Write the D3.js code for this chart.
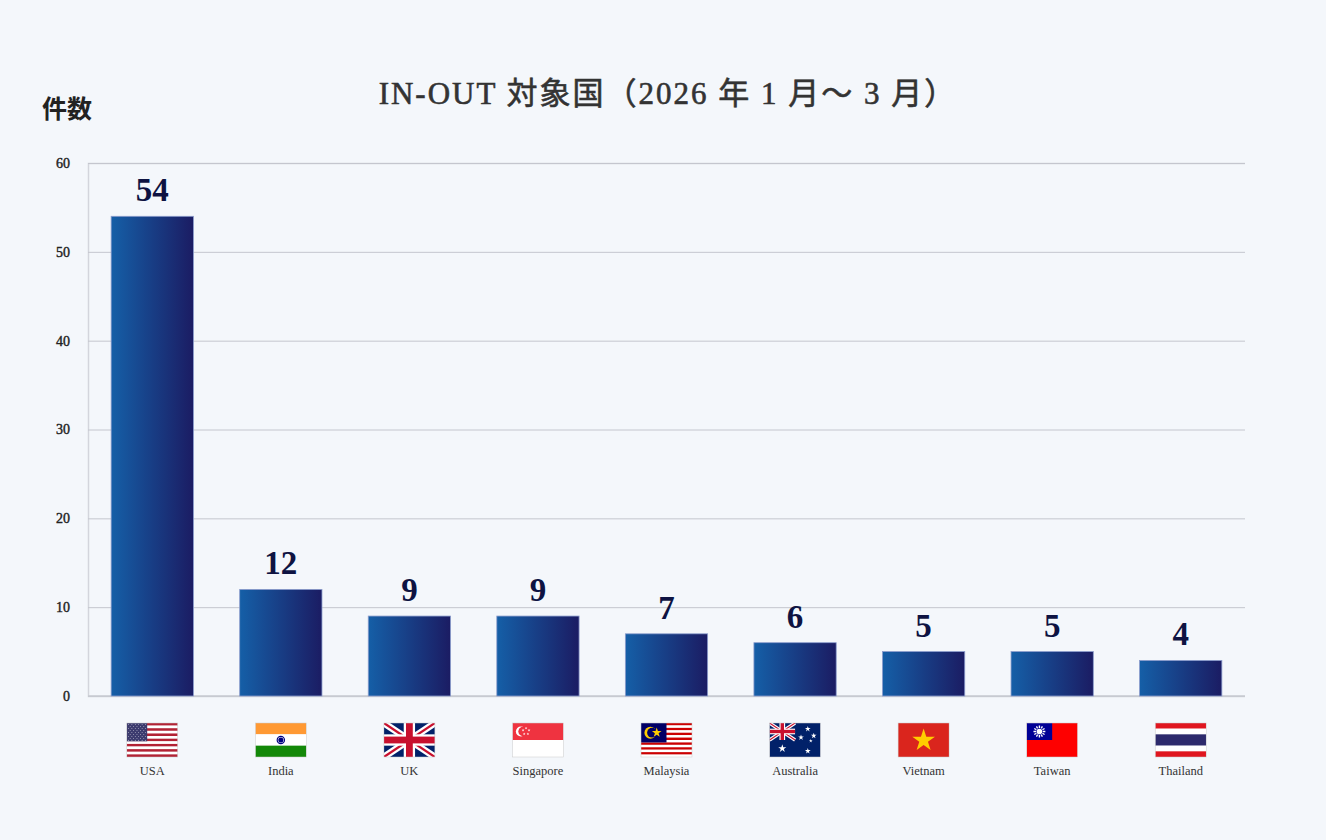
<!DOCTYPE html>
<html><head><meta charset="utf-8">
<script src="https://cdn.jsdelivr.net/npm/d3@7"></script>
<style>
html,body{margin:0;padding:0;background:#f4f7fb;}
svg{display:block;}
</style></head>
<body>
<svg id="chart" width="1326" height="840"></svg>
<script>
const countries = ["USA","India","UK","Singapore","Malaysia","Australia","Vietnam","Taiwan","Thailand"];
const flagCodes = ["us","in","gb","sg","my","au","vn","tw","th"];
const counts = [54,12,9,9,7,6,5,5,4];
const yTicks = [0,10,20,30,40,50,60];
const titleText = "IN-OUT 対象国（2026 年 1 月〜 3 月）";
const yLabel = "件数";

const W=1326,H=840;
const m={left:88,right:81,top:163,bottom:144};
const svg=d3.select("#chart");
svg.append("rect").attr("width",W).attr("height",H).attr("fill","#f4f7fb");
const defs=svg.append("defs");
const grad=defs.append("linearGradient").attr("id","barGrad").attr("x1","0%").attr("x2","100%").attr("y1","0%").attr("y2","0%");
grad.append("stop").attr("offset","0%").attr("stop-color","#155fa7");
grad.append("stop").attr("offset","100%").attr("stop-color","#1b1c63");

const x=d3.scaleBand().domain(countries).range([m.left,W-m.right]).paddingInner(0.36).paddingOuter(0.18);
const y=d3.scaleLinear().domain([0,60]).range([H-m.bottom,m.top]);

const serif='"Liberation Serif","DejaVu Serif","Noto Sans CJK JP",serif';

// title
svg.append("text").attr("x",668).attr("y",104).attr("text-anchor","middle")
 .attr("font-family",serif).attr("font-size",31).attr("font-weight",400).attr("letter-spacing",2)
 .attr("fill","#333").attr("stroke","#333").attr("stroke-width",0.6).text(titleText);
svg.append("text").attr("x",42).attr("y",118)
 .attr("font-family",'"Noto Sans CJK JP",serif').attr("font-size",25).attr("font-weight",700)
 .attr("fill","#222").text(yLabel);

// grid
const yAxis=d3.axisLeft(y).tickValues(yTicks).tickSize(-(W-m.left-m.right)).tickPadding(18);
const ga=svg.append("g").attr("transform",`translate(${m.left},0)`).call(yAxis);
ga.select(".domain").attr("stroke","#d3d5dc").attr("stroke-width",1.5);
ga.selectAll(".tick line").attr("stroke","#c4c6ce").attr("stroke-width",1);
ga.selectAll(".tick text").attr("font-family",serif).attr("font-size",14).attr("font-weight",400)
 .attr("stroke","#222").attr("stroke-width",0.4).attr("fill","#222");
// baseline
svg.append("line").attr("x1",m.left).attr("x2",W-m.right).attr("y1",y(0)).attr("y2",y(0)).attr("stroke","#c9cbd2").attr("stroke-width",1.5);

// bars
const data=countries.map((c,i)=>({c,v:counts[i],code:flagCodes[i]}));
svg.append("g").selectAll("rect").data(data).join("rect")
 .attr("x",d=>x(d.c)).attr("width",x.bandwidth())
 .attr("y",d=>y(d.v)).attr("height",d=>y(0)-y(d.v))
 .attr("fill","url(#barGrad)").attr("stroke","#8b9ccc").attr("stroke-width",0.8);
svg.append("g").selectAll("text").data(data).join("text")
 .attr("x",d=>x(d.c)+x.bandwidth()/2).attr("y",d=>y(d.v)-15).attr("text-anchor","middle")
 .attr("font-family",serif).attr("font-size",33).attr("font-weight",700).attr("fill","#0e1342")
 .text(d=>d.v);

// labels
svg.append("g").selectAll("text").data(data).join("text")
 .attr("x",d=>x(d.c)+x.bandwidth()/2).attr("y",775).attr("text-anchor","middle")
 .attr("font-family",serif).attr("font-size",12.5).attr("fill","#333").text(d=>d.c);

// flags: drawn in 60x40 units, scaled to 51x34
function star(g,cx,cy,size,fill){
  const sym=d3.symbol().type(d3.symbolStar).size(size);
  g.append("path").attr("d",sym()).attr("transform",`translate(${cx},${cy})`).attr("fill",fill);
}
function union(g,w,h){
  g.append("rect").attr("width",w).attr("height",h).attr("fill","#012169");
  [[0,0,w,h],[0,h,w,0]].forEach(l=>{
    g.append("line").attr("x1",l[0]).attr("y1",l[1]).attr("x2",l[2]).attr("y2",l[3]).attr("stroke","#fff").attr("stroke-width",h*0.2);
  });
  [[0,0,w,h],[0,h,w,0]].forEach(l=>{
    g.append("line").attr("x1",l[0]).attr("y1",l[1]).attr("x2",l[2]).attr("y2",l[3]).attr("stroke","#c8102e").attr("stroke-width",h*0.067);
  });
  g.append("rect").attr("x",w/2-h/6).attr("width",h/3).attr("height",h).attr("fill","#fff");
  g.append("rect").attr("y",h/3).attr("width",w).attr("height",h/3).attr("fill","#fff");
  g.append("rect").attr("x",w/2-h/10).attr("width",h/5).attr("height",h).attr("fill","#c8102e");
  g.append("rect").attr("y",h/2-h/10).attr("width",w).attr("height",h/5).attr("fill","#c8102e");
}
const flagDraw={
  us(g){
    for(let i=0;i<13;i++) g.append("rect").attr("y",i*40/13).attr("width",60).attr("height",40/13+0.05).attr("fill",i%2?"#fff":"#b22234");
    g.append("rect").attr("width",24).attr("height",40*7/13).attr("fill","#3c3b6e");
    for(let r=0;r<9;r++){const n=r%2?5:6;for(let k=0;k<n;k++){
      g.append("circle").attr("cx",2+(r%2?2:0)+k*4).attr("cy",1.6+r*2.35).attr("r",0.55).attr("fill","#fff");}}
  },
  in(g){
    g.append("rect").attr("width",60).attr("height",13.34).attr("fill","#ff9933");
    g.append("rect").attr("y",13.33).attr("width",60).attr("height",13.34).attr("fill","#fff");
    g.append("rect").attr("y",26.66).attr("width",60).attr("height",13.34).attr("fill","#138808");
    g.append("circle").attr("cx",30).attr("cy",20).attr("r",5).attr("fill","#000080");
    g.append("circle").attr("cx",30).attr("cy",20).attr("r",3.6).attr("fill","#fff");
    g.append("circle").attr("cx",30).attr("cy",20).attr("r",3).attr("fill","#000080");
  },
  gb(g){union(g,60,40);},
  sg(g){
    g.append("rect").attr("width",60).attr("height",20).attr("fill","#ef3340");
    g.append("rect").attr("y",20).attr("width",60).attr("height",20).attr("fill","#fff");
    g.append("circle").attr("cx",10).attr("cy",10).attr("r",6).attr("fill","#fff");
    g.append("circle").attr("cx",12.5).attr("cy",10).attr("r",5.6).attr("fill","#ef3340");
    [[16,6],[19.5,8.5],[18.2,12.8],[13.8,12.8],[12.5,8.5]].forEach(p=>star(g,p[0],p[1],3.2,"#fff"));
  },
  my(g){
    for(let i=0;i<14;i++) g.append("rect").attr("y",i*40/14).attr("width",60).attr("height",40/14+0.05).attr("fill",i%2?"#fff":"#cc0001");
    g.append("rect").attr("width",30).attr("height",40*8/14).attr("fill","#010066");
    g.append("circle").attr("cx",11).attr("cy",11.4).attr("r",7).attr("fill","#fc0");
    g.append("circle").attr("cx",13).attr("cy",11.4).attr("r",5.8).attr("fill","#010066");
    star(g,18.5,11.4,40,"#fc0");
  },
  au(g){
    g.append("rect").attr("width",60).attr("height",40).attr("fill","#012169");
    union(g.append("g"),30,20);
    star(g,15,30,28,"#fff");
    [[45,33],[37,17],[45,7],[52,15],[48.5,21]].forEach((p,i)=>star(g,p[0],p[1],i==4?6:14,"#fff"));
  },
  vn(g){
    g.append("rect").attr("width",60).attr("height",40).attr("fill","#da251d");
    star(g,30,20.5,220,"#ffcd00");
  },
  tw(g){
    g.append("rect").attr("width",60).attr("height",40).attr("fill","#fe0000");
    g.append("rect").attr("width",30).attr("height",20).attr("fill","#000095");
    for(let k=0;k<12;k++){
      const a=k*Math.PI/6;
      g.append("line").attr("x1",15).attr("y1",10).attr("x2",15+7*Math.sin(a)).attr("y2",10-7*Math.cos(a))
       .attr("stroke","#fff").attr("stroke-width",1.6);
    }
    g.append("circle").attr("cx",15).attr("cy",10).attr("r",4).attr("fill","#000095");
    g.append("circle").attr("cx",15).attr("cy",10).attr("r",3.3).attr("fill","#fff");
  },
  th(g){
    const s=[["#e0161f",0,6.67],["#fff",6.67,6.67],["#2d2a6c",13.33,13.34],["#fff",26.67,6.67],["#e0161f",33.33,6.67]];
    s.forEach(d=>g.append("rect").attr("y",d[1]).attr("width",60).attr("height",d[2]+0.05).attr("fill",d[0]));
  }
};
const fw=51,fh=34,fy=723;
data.forEach((d,i)=>{
  const cx=x(d.c)+x.bandwidth()/2;
  defs.append("clipPath").attr("id","fc"+i).append("rect").attr("width",60).attr("height",40);
  const g=svg.append("g").attr("transform",`translate(${cx-fw/2},${fy}) scale(${fw/60})`);
  const inner=g.append("g").attr("clip-path",`url(#fc${i})`);
  flagDraw[d.code](inner);
  g.append("rect").attr("width",60).attr("height",40).attr("fill","none").attr("stroke","#ccc").attr("stroke-width",0.6);
});
</script>
</body></html>
